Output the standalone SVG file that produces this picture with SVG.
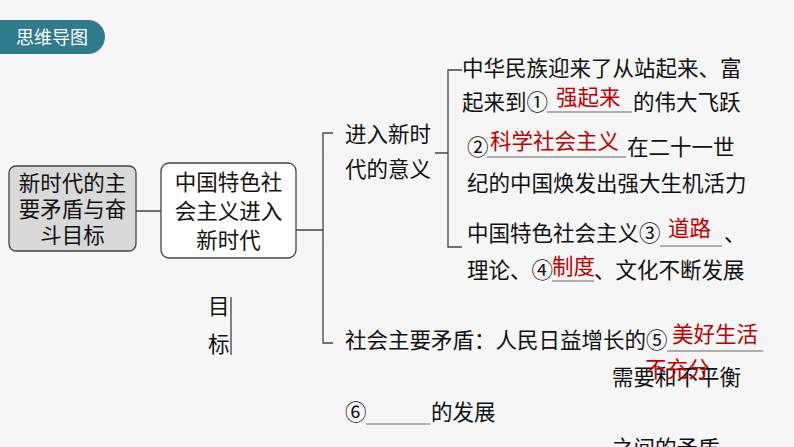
<svg xmlns="http://www.w3.org/2000/svg" width="794" height="447" viewBox="0 0 794 447">
<style>
text{font-family:"Noto Sans CJK SC","Liberation Sans",sans-serif;font-size:21.5px;fill:#111}
.r{fill:#c00000}
.l{stroke:#444;stroke-width:1.3;fill:none}
.u{stroke:#666;stroke-width:1;fill:none}
.box{stroke:#444;stroke-width:1.3}
</style>
<rect width="794" height="447" fill="#f6f6f6"/>
<g id="tab"><rect x="-20" y="20" width="125" height="34" rx="17" fill="#2e7b8c"/><text x="16" y="44" style="fill:#fff;font-size:18px">思维导图</text></g>
<g id="connectors" class="l">
<path d="M136 211H161M296 230H323M333 133H323V343H333M435 153H448M462 70H448V247H462M231 297V355"/>
</g>
<g id="root"><rect class="box" x="9" y="166" width="127" height="85" rx="7" fill="#d9d9d9"/>
<text x="72.5" y="191" text-anchor="middle">新时代的主</text><text x="72.5" y="217" text-anchor="middle">要矛盾与奋</text><text x="72.5" y="243" text-anchor="middle">斗目标</text></g>
<g id="n2"><rect class="box" x="161" y="163" width="135" height="95" rx="8" fill="#fff"/>
<text x="228.5" y="190" text-anchor="middle">中国特色社</text><text x="228.5" y="219" text-anchor="middle">会主义进入</text><text x="228.5" y="248" text-anchor="middle">新时代</text></g>
<g id="goal"><text x="208" y="314">目</text><text x="208" y="352">标</text></g>
<g id="meaning"><text x="345" y="142">进入新时</text><text x="345" y="177">代的意义</text></g>
<g id="m1"><text x="462" y="76">中华民族迎来了从站起来、富</text>
<text x="462" y="110">起来到①</text><path class="u" d="M547 112H632"/><text class="r" x="556" y="105">强起来</text><text x="633" y="110">的伟大飞跃</text></g>
<g id="m2"><text x="467" y="155">②</text><path class="u" d="M487 157H626"/><text class="r" x="490" y="149">科学社会主义</text><text x="627" y="155">在二十一世</text>
<text x="467" y="191">纪的中国焕发出强大生机活力</text></g>
<g id="m3"><text x="467" y="241">中国特色社会主义③</text><path class="u" d="M660 246H722"/><text class="r" x="668" y="236">道路</text><text x="724" y="241">、</text>
<text x="467" y="278">理论、④</text><path class="u" d="M552 281H594"/><text class="r" x="552" y="274">制度</text><text x="594" y="278">、文化不断发展</text></g>
<g id="contra"><text x="345" y="348">社会主要矛盾：人民日益增长的⑤</text><path class="u" d="M667 351H763"/><text class="r" x="672" y="342">美好生活</text>
<text x="612" y="385">需要和不平衡</text><text class="r" x="645" y="377">不充分</text>
<text x="345" y="420">⑥</text><path class="u" d="M366 424H430"/><text x="431" y="420">的发展</text>
<text x="612" y="456">之间的矛盾</text></g>
</svg>
